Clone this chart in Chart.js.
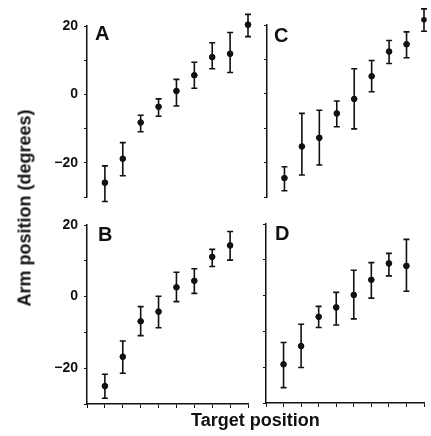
<!DOCTYPE html>
<html>
<head>
<meta charset="utf-8">
<script src="https://cdn.jsdelivr.net/npm/chart.js@4.4.1/dist/chart.umd.min.js"></script>
<style>
  body { margin: 0; background: #fff; }
  #wrap { position: relative; width: 431px; height: 436px; overflow: hidden; }
  #wrap canvas { position: absolute; left: 0; top: 0; }
  .txt { position: absolute; font-family: "Liberation Sans", Arial, sans-serif; font-weight: bold; color: #111; white-space: nowrap; }
  .panel { font-size: 20px; }
</style>
</head>
<body>
<div id="wrap">
  <canvas id="chartA" width="431" height="436"></canvas>
  <canvas id="chartB" width="431" height="436"></canvas>
  <canvas id="chartC" width="431" height="436"></canvas>
  <canvas id="chartD" width="431" height="436"></canvas>
  <div class="txt panel" style="left:95px; top:22px;">A</div>
  <div class="txt panel" style="left:274px; top:24px;">C</div>
  <div class="txt panel" style="left:98px; top:223px;">B</div>
  <div class="txt panel" style="left:275px; top:222px;">D</div>
  <div class="txt" style="left:191px; top:410px; font-size:18px;">Target position</div>
  <div class="txt" style="left:25px; top:208px; font-size:18px; transform: translate(-50%, -50%) rotate(-90deg);">Arm position (degrees)</div>
</div>
<script>
// target positions (x) for each panel
var targetA = [1, 2, 3, 4, 5, 6, 7, 8, 9];
var targetB = [1, 2, 3, 4, 5, 6, 7, 8];
var targetC = [1, 2, 3, 4, 5, 6, 7, 8, 9];
var targetD = [1, 2, 3, 4, 5, 6, 7, 8];

// mean arm position and error bar ends (degrees)
var meanA = [-25.8, -18.8, -8.2, -3.6, 1.0, 5.6, 10.9, 11.9, 20.4];
var lowA  = [-31.3, -23.8, -10.9, -6.4, -3.4, 1.8, 7.5, 6.4, 16.9];
var highA = [-20.9, -14.1, -6.1, -1.3, 4.4, 9.4, 15.1, 18.1, 23.4];

var meanB = [-25.0, -16.8, -6.9, -4.2, 2.6, 4.4, 11.1, 14.3];
var lowB  = [-28.4, -21.4, -10.9, -8.7, -1.4, 0.9, 8.4, 10.2];
var highB = [-21.7, -12.4, -2.8, 0.1, 6.8, 7.8, 13.2, 18.2];

var meanC = [-24.5, -15.3, -12.8, -5.7, -1.5, 5.1, 12.3, 14.4, 21.5];
var lowC  = [-28.2, -23.6, -20.7, -9.6, -10.2, 0.6, 8.8, 10.5, 18.2];
var highC = [-21.2, -5.7, -4.8, -2.1, 7.3, 9.7, 15.5, 18.0, 24.7];

var meanD = [-19.2, -14.1, -5.9, -3.3, 0.2, 4.4, 9.0, 8.3];
var lowD  = [-25.7, -20.1, -8.9, -8.2, -6.5, -0.7, 5.5, 1.2];
var highD = [-13.1, -8.0, -3.0, 0.9, 7.1, 9.2, 11.8, 15.7];

var yTicksShown = [20, 0, -20];

// draws vertical error bars with caps, plus the mean dots
// (chart.js skips points lying outside the chart area, some here do)
var errorBarPlugin = {
    id: 'errorBars',
    afterDatasetsDraw: function (chart) {
        var ctx = chart.ctx;
        var xs = chart.scales.x;
        var ys = chart.scales.y;
        var eb = chart.config.options.errorBars;
        ctx.save();
        ctx.strokeStyle = '#111';
        ctx.fillStyle = '#111';
        ctx.lineWidth = 1.6;
        eb.pos.forEach(function (p, i) {
            var x = xs.getPixelForValue(p);
            var y1 = ys.getPixelForValue(eb.low[i]);
            var y2 = ys.getPixelForValue(eb.high[i]);
            ctx.beginPath();
            ctx.moveTo(x, y1);
            ctx.lineTo(x, y2);
            ctx.moveTo(x - 3, y1);
            ctx.lineTo(x + 3, y1);
            ctx.moveTo(x - 3, y2);
            ctx.lineTo(x + 3, y2);
            ctx.stroke();
            ctx.beginPath();
            ctx.arc(x, ys.getPixelForValue(eb.mean[i]), 2.8, 0, Math.PI * 2);
            ctx.fill();
        });
        ctx.restore();
    }
};

function makePanel(id, pos, mean, low, high, area, showYLabels, showX) {
    var yWidth = showYLabels ? area.left : 10;
    var points = pos.map(function (p, i) { return { x: p, y: mean[i] }; });
    return new Chart(document.getElementById(id).getContext('2d'), {
        type: 'scatter',
        data: {
            datasets: [{
                data: points,
                backgroundColor: '#111',
                borderColor: '#111',
                pointRadius: 2.8,
                pointHoverRadius: 2.8,
                clip: false
            }]
        },
        options: {
            responsive: false,
            animation: false,
            events: [],
            errorBars: { pos: pos, mean: mean, low: low, high: high },
            layout: {
                padding: {
                    left: area.left - yWidth,
                    top: area.top,
                    right: 431 - area.right,
                    bottom: showX ? 436 - area.bottom - 10 : 436 - area.bottom
                }
            },
            plugins: { legend: { display: false }, tooltip: { enabled: false } },
            scales: {
                x: {
                    type: 'linear',
                    display: showX,
                    min: 0,
                    max: 9,
                    ticks: { stepSize: 1, callback: function () { return ''; } },
                    grid: { drawOnChartArea: false, drawTicks: true, tickLength: 4, color: '#111', lineWidth: 1 },
                    border: { display: true, color: '#111', width: 1.5 },
                    afterFit: function (scale) { scale.height = 10; }
                },
                y: {
                    type: 'linear',
                    min: -30,
                    max: 20,
                    ticks: {
                        stepSize: 10,
                        padding: 6,
                        color: '#111',
                        font: { family: '"Liberation Sans", Arial, sans-serif', size: 14, weight: 'bold' },
                        callback: function (v) {
                            if (!showYLabels || yTicksShown.indexOf(v) === -1) return '';
                            return v < 0 ? '\u2212' + Math.abs(v) : String(v);
                        }
                    },
                    grid: { drawOnChartArea: false, drawTicks: true, tickLength: 3, color: '#111', lineWidth: 1 },
                    border: { display: true, color: '#111', width: 1.5 },
                    afterFit: function (scale) { scale.width = yWidth; }
                }
            }
        },
        plugins: [errorBarPlugin]
    });
}

makePanel('chartA', targetA, meanA, lowA, highA, { left: 87, top: 26, right: 248, bottom: 207 }, true, false);
makePanel('chartB', targetB, meanB, lowB, highB, { left: 87, top: 225, right: 248, bottom: 404 }, true, true);
makePanel('chartC', targetC, meanC, lowC, highC, { left: 267, top: 25, right: 424, bottom: 207 }, false, false);
makePanel('chartD', targetD, meanD, lowD, highD, { left: 266, top: 224, right: 424, bottom: 403 }, false, true);
</script>
</body>
</html>
